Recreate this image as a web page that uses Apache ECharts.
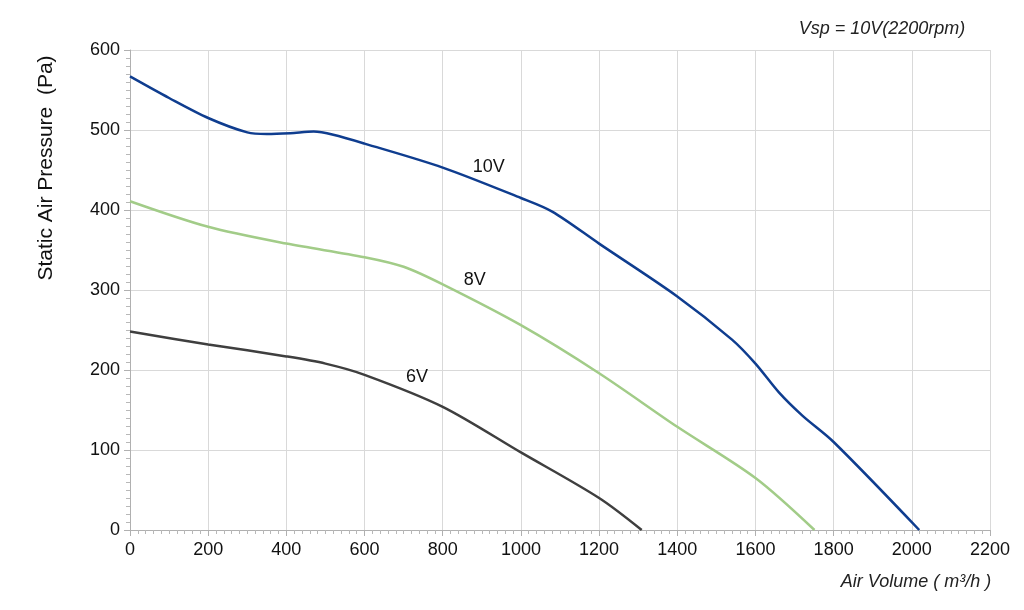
<!DOCTYPE html>
<html>
<head>
<meta charset="utf-8">
<title>Fan curve</title>
<script src="https://cdn.jsdelivr.net/npm/echarts@6/dist/echarts.min.js"></script>
<style>
  html, body { margin: 0; padding: 0; background: #fff; }
  #chart { width: 1024px; height: 610px; }
</style>
</head>
<body>
<div id="chart"></div>
<script>
// air volume (m3/h) / static pressure (Pa)
const v10x = [0, 100, 200, 300, 350, 410, 470, 520, 600, 800, 1000, 1080, 1200, 1400, 1540, 1600, 1660, 1720, 1800, 2019];
const v10y = [567, 540, 515, 497, 495, 496, 498, 494, 483, 453, 415, 398, 358, 292, 238, 208, 172, 143, 110, 0];

const v8x = [0, 200, 400, 600, 700, 800, 1000, 1200, 1400, 1600, 1751];
const v8y = [411, 379, 358, 341, 329, 307, 256, 196, 129, 65, 0];

const v6x = [0, 200, 400, 500, 600, 800, 1000, 1200, 1309];
const v6y = [248, 232, 217, 208, 194, 154, 97, 40, 0];

const curveNames = ['10V', '8V', '6V'];
const curveColors = ['#0f3d8f', '#a2cc88', '#3f3f3f'];
// where the curve names sit, in data units
const labelAt = [[918, 454], [882, 312], [734, 191]];

const xTicks = [0, 200, 400, 600, 800, 1000, 1200, 1400, 1600, 1800, 2000, 2200];
const yTicks = [0, 100, 200, 300, 400, 500, 600];

function pairs(xs, ys) {
    return xs.map(function (x, i) { return [x, ys[i]]; });
}

const curves = [pairs(v10x, v10y), pairs(v8x, v8y), pairs(v6x, v6y)];

const chart = echarts.init(document.getElementById('chart'));
const font = 'Liberation Sans, Arial, sans-serif';

const option = {
    backgroundColor: '#fff',
    animation: false,
    textStyle: { fontFamily: font },
    grid: { left: 130, right: 34, top: 50, bottom: 80 },
    xAxis: {
        type: 'value',
        min: xTicks[0],
        max: xTicks[xTicks.length - 1],
        interval: 200,
        axisLine: { show: true, lineStyle: { color: '#b0b0b0', width: 1 } },
        axisTick: { show: true, length: 6, lineStyle: { color: '#b0b0b0' } },
        minorTick: { show: true, splitNumber: 10, length: 4, lineStyle: { color: '#b8b8b8' } },
        splitLine: { show: true, lineStyle: { color: '#d9d9d9', width: 1 } },
        axisLabel: { color: '#111', fontSize: 18, margin: 11, fontFamily: font, formatter: function (v) { return String(v); } }
    },
    yAxis: {
        type: 'value',
        min: yTicks[0],
        max: yTicks[yTicks.length - 1],
        interval: 100,
        axisLine: { show: true, lineStyle: { color: '#b0b0b0', width: 1 } },
        axisTick: { show: true, length: 6, lineStyle: { color: '#b0b0b0' } },
        minorTick: { show: true, splitNumber: 10, length: 4, lineStyle: { color: '#b8b8b8' } },
        splitLine: { show: true, lineStyle: { color: '#d9d9d9', width: 1 } },
        axisLabel: { color: '#111', fontSize: 18, margin: 10, fontFamily: font, formatter: function (v) { return String(v); } }
    },
    graphic: [
        {
            type: 'text', x: 882, y: 29,
            style: { text: 'Vsp = 10V(2200rpm)', font: 'italic 18px ' + font, fill: '#222', textAlign: 'center', textVerticalAlign: 'middle' }
        },
        {
            type: 'text', x: 916, y: 582,
            style: { text: 'Air Volume ( m\u00b3/h )', font: 'italic 18px ' + font, fill: '#222', textAlign: 'center', textVerticalAlign: 'middle' }
        },
        {
            type: 'text', x: 46, y: 168, rotation: Math.PI / 2,
            style: { text: 'Static Air Pressure  (Pa)', font: '21px ' + font, fill: '#111', textAlign: 'center', textVerticalAlign: 'middle' }
        }
    ],
    series: curves.map(function (d, i) {
        return {
            name: curveNames[i],
            type: 'line',
            data: d,
            smooth: 0.3,
            showSymbol: false,
            symbol: 'none',
            lineStyle: { color: curveColors[i], width: 2.5 },
            markPoint: {
                symbol: 'circle',
                symbolSize: 0,
                label: { show: true, position: 'inside', formatter: curveNames[i], color: '#111', fontSize: 18, fontFamily: font },
                data: [{ coord: labelAt[i] }]
            }
        };
    })
};

chart.setOption(option);
</script>
</body>
</html>
